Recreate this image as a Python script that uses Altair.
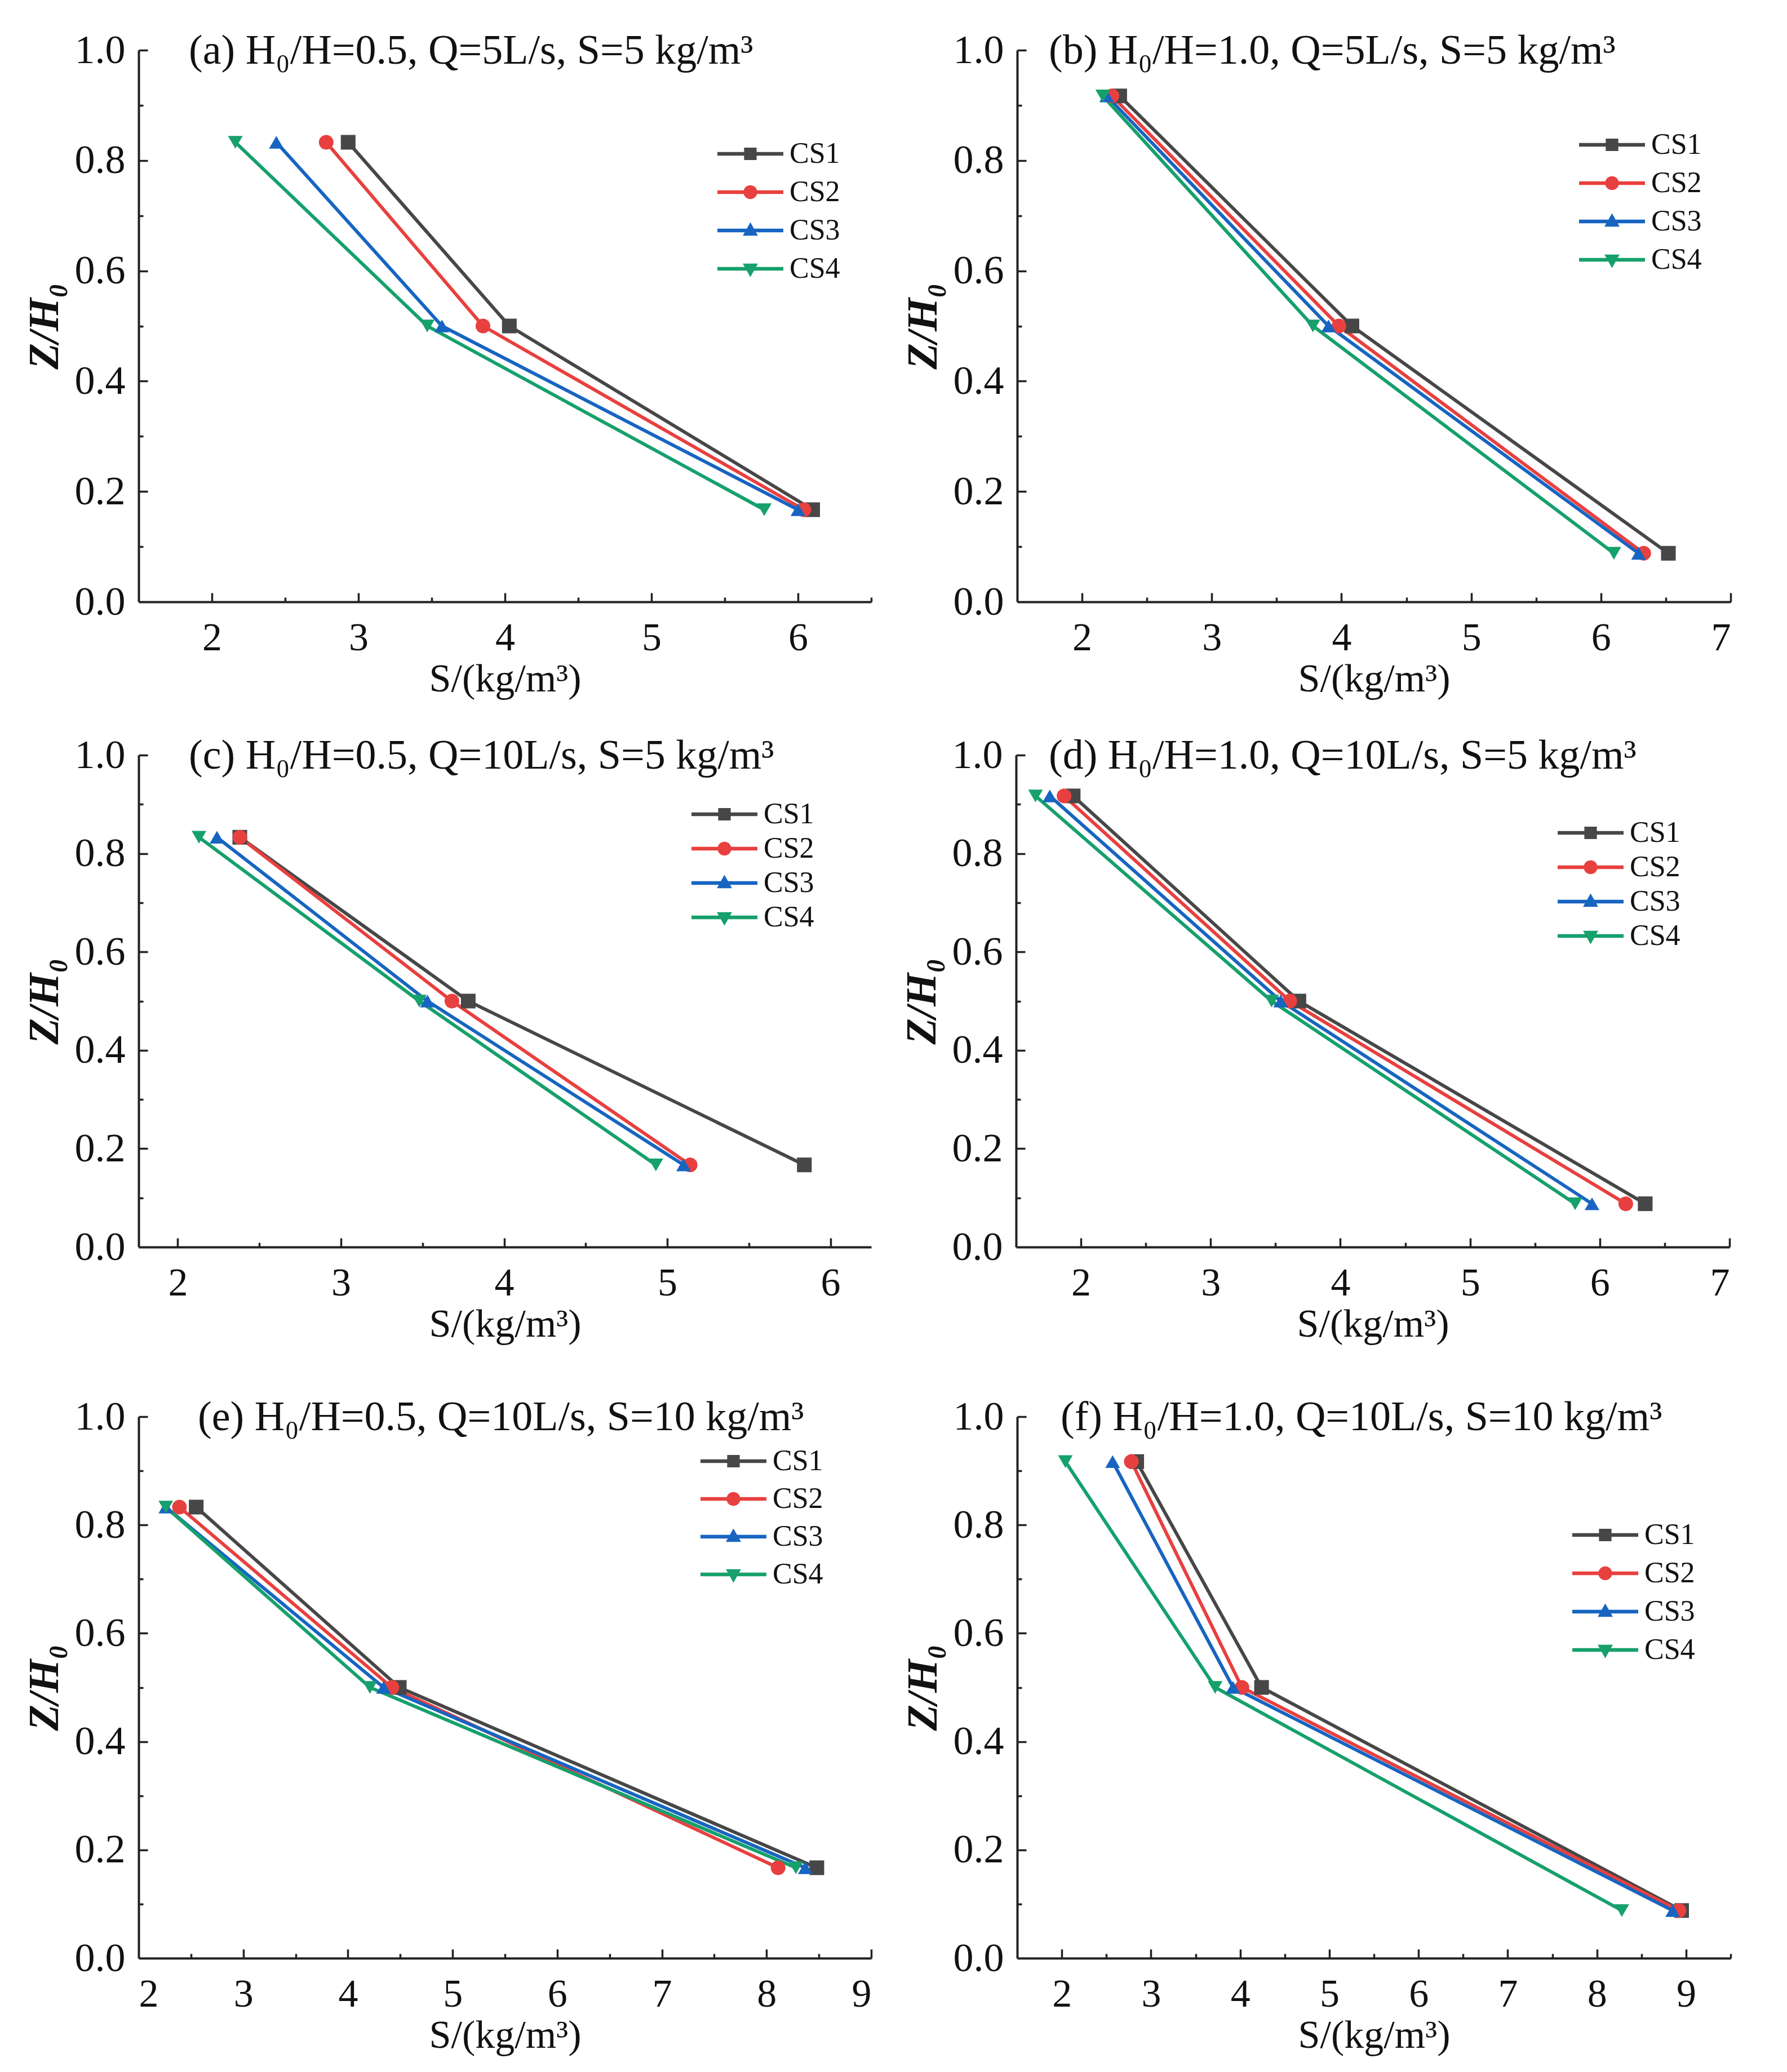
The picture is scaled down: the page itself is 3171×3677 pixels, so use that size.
import altair as alt
import pandas as pd

# ---------------- data ----------------
series = ["CS1", "CS2", "CS3", "CS4"]
colors = ["#474747", "#e8403f", "#1765c1", "#16a06c"]
shapes = ["square", "circle", "triangle-up", "triangle-down"]

z_half = [0.833, 0.5, 0.167]   # H0/H = 0.5
z_full = [0.917, 0.5, 0.088]   # H0/H = 1.0

a_cs1 = [2.93, 4.03, 6.10]
a_cs2 = [2.78, 3.85, 6.04]
a_cs3 = [2.44, 3.57, 6.00]
a_cs4 = [2.16, 3.47, 5.77]

b_cs1 = [2.29, 4.08, 6.52]
b_cs2 = [2.23, 3.98, 6.33]
b_cs3 = [2.19, 3.90, 6.29]
b_cs4 = [2.16, 3.78, 6.10]

c_cs1 = [2.38, 3.78, 5.84]
c_cs2 = [2.38, 3.68, 5.14]
c_cs3 = [2.24, 3.53, 5.10]
c_cs4 = [2.13, 3.48, 4.93]

d_cs1 = [1.94, 3.68, 6.35]
d_cs2 = [1.87, 3.61, 6.20]
d_cs3 = [1.76, 3.54, 5.94]
d_cs4 = [1.65, 3.47, 5.81]

e_cs1 = [2.55, 4.49, 8.48]
e_cs2 = [2.39, 4.42, 8.11]
e_cs3 = [2.26, 4.34, 8.37]
e_cs4 = [2.26, 4.21, 8.28]

f_cs1 = [2.84, 4.24, 8.95]
f_cs2 = [2.78, 4.02, 8.92]
f_cs3 = [2.57, 3.92, 8.85]
f_cs4 = [2.04, 3.72, 8.28]

titles = [
    "(a) H\u2080/H=0.5, Q=5L/s, S=5 kg/m\u00b3",
    "(b) H\u2080/H=1.0, Q=5L/s, S=5 kg/m\u00b3",
    "(c) H\u2080/H=0.5, Q=10L/s, S=5 kg/m\u00b3",
    "(d) H\u2080/H=1.0, Q=10L/s, S=5 kg/m\u00b3",
    "(e) H\u2080/H=0.5, Q=10L/s, S=10 kg/m\u00b3",
    "(f) H\u2080/H=1.0, Q=10L/s, S=10 kg/m\u00b3",
]

y_labels = [0.0, 0.2, 0.4, 0.6, 0.8, 1.0]
y_ticks = [0.1, 0.2, 0.3, 0.4, 0.5, 0.6, 0.7, 0.8, 0.9, 1.0]

# legend symbols: line + marker, as custom paths
LINE = "M-1,-0.055H1V0.055H-1Z"
legend_paths = [
    LINE + "M-0.19,-0.19H0.19V0.19H-0.19Z",
    LINE + "M-0.21,0A0.21,0.21 0 1,1 0.21,0A0.21,0.21 0 1,1 -0.21,0Z",
    LINE + "M0,-0.25L0.23,0.16H-0.23Z",
    LINE + "M0,0.25L-0.23,-0.16H0.23Z",
]

FONT = "Liberation Serif"


def panel(title, cs_vals, z, xdom, xlabels, width, height, legx, legy, rowpad, tdx):
    rows = []
    for s, vals in zip(series, cs_vals):
        for i, (xv, zv) in enumerate(zip(vals, z)):
            rows.append({"series": s, "S": xv, "Z": zv, "order": i})
    df = pd.DataFrame(rows)

    xticks = []
    v = xlabels[0] - 0.5
    while v <= xdom[1] + 1e-9:
        if v > xdom[0] + 1e-6:
            xticks.append(round(v, 2))
        v += 0.5

    xscale = alt.Scale(domain=xdom, nice=False, zero=False)
    yscale = alt.Scale(domain=[0, 1], nice=False, zero=False)
    cscale = alt.Scale(domain=series, range=colors)

    base = alt.Chart(df)

    lines = base.mark_line(strokeWidth=6).encode(
        x=alt.X("S:Q", scale=xscale,
                axis=alt.Axis(values=xlabels, title="S/(kg/m\u00b3)", ticks=False, tickSize=0,
                              grid=False, orient="bottom", labelPadding=30, titlePadding=4,
                              labelFontSize=70, titleFontSize=70, format="d")),
        y=alt.Y("Z:Q", scale=yscale,
                axis=alt.Axis(values=y_labels, title="Z/H\u2080", ticks=False, tickSize=0,
                              grid=False, orient="left", format=".1f", labelPadding=24,
                              titlePadding=14, titleFontStyle="italic", titleFontWeight="bold",
                              titleFontSize=76)),
        color=alt.Color("series:N", scale=cscale, legend=None),
        detail="series:N",
        order="order:Q",
    )

    pts = base.mark_point(filled=True, opacity=1, size=680).encode(
        x=alt.X("S:Q", scale=xscale,
                axis=alt.Axis(values=xticks, orient="top", offset=-height, labels=False,
                              domain=False, grid=False, title=None, tickWidth=3.5,
                              tickColor="#222222",
                              tickSize={"condition": {"test": "abs(datum.value - round(datum.value)) < 0.01",
                                                      "value": 16}, "value": 8})),
        y=alt.Y("Z:Q", scale=yscale,
                axis=alt.Axis(values=y_ticks, orient="right", offset=-width, labels=False,
                              domain=False, grid=False, title=None, tickWidth=3.5,
                              tickColor="#222222",
                              tickSize={"condition": {"test": "abs(datum.value*5 - round(datum.value*5)) < 0.01",
                                                      "value": 16}, "value": 8})),
        color=alt.Color("series:N", scale=cscale, legend=None),
        shape=alt.Shape("series:N", scale=alt.Scale(domain=series, range=shapes), legend=None),
    )

    leg = alt.Legend(title=None, orient="none", legendX=legx, legendY=legy,
                     symbolSize=13689, clipHeight=56, rowPadding=rowpad,
                     labelFont=FONT, labelFontSize=52, labelColor="#111111",
                     labelOffset=10, padding=0, symbolOpacity=1)

    legend_layer = base.mark_point(filled=True, opacity=1).encode(
        x=alt.X("S:Q", scale=xscale, axis=None),
        y=alt.Y("Z:Q", scale=yscale, axis=None),
        color=alt.Color("series:N", scale=alt.Scale(domain=series, range=colors), legend=leg),
        shape=alt.Shape("series:N", scale=alt.Scale(domain=series, range=legend_paths), legend=leg),
    ).transform_filter("false")

    title_layer = alt.Chart(pd.DataFrame({"t": [title]})).mark_text(
        align="left", baseline="alphabetic", font=FONT, fontSize=74, color="#111111"
    ).encode(text="t:N", x=alt.value(tdx), y=alt.value(24))

    return alt.layer(lines, pts, legend_layer, title_layer).resolve_scale(
        color="independent", shape="independent"
    ).resolve_axis(x="independent", y="independent").properties(
        width=width, height=height,
    )


W1, W2 = 1300, 1266
H1, H2, H3 = 979, 873, 961
pa = panel(titles[0], [a_cs1, a_cs2, a_cs3, a_cs4], z_half, [1.5, 6.5], [2, 3, 4, 5, 6],
           W1, H1, 1026, 156, 12, 89)
pb = panel(titles[1], [b_cs1, b_cs2, b_cs3, b_cs4], z_full, [1.5, 7.0], [2, 3, 4, 5, 6, 7],
           W2, H1, 996, 140, 12, 56)
pc = panel(titles[2], [c_cs1, c_cs2, c_cs3, c_cs4], z_half, [1.76, 6.25], [2, 3, 4, 5, 6],
           W1, H2, 980, 77, 5, 89)
pd_ = panel(titles[3], [d_cs1, d_cs2, d_cs3, d_cs4], z_full, [1.5, 7.0], [2, 3, 4, 5, 6, 7],
            W2, H2, 960, 110, 5, 58)
pe = panel(titles[4], [e_cs1, e_cs2, e_cs3, e_cs4], z_half, [2.0, 9.0], [2, 3, 4, 5, 6, 7, 8, 9],
           W1, H3, 996, 51, 11, 105)
pf = panel(titles[5], [f_cs1, f_cs2, f_cs3, f_cs4], z_full, [1.5, 9.5], [2, 3, 4, 5, 6, 7, 8, 9],
           W2, H3, 984, 182, 12, 77)

row1 = alt.hconcat(pa, pb, spacing=52)
row2 = alt.hconcat(pc, pd_, spacing=52)
row3 = alt.hconcat(pe, pf, spacing=52)

chart = alt.vconcat(row1, alt.vconcat(row2, row3, spacing=93), spacing=64).properties(
    padding={"left": 33, "top": 45, "right": 10, "bottom": 10},
    background="white",
).configure(font=FONT).configure_view(stroke=None).configure_axis(
    labelFont=FONT, labelFontSize=72, labelColor="#111111",
    titleFont=FONT, titleFontSize=72, titleFontWeight="normal", titleColor="#111111",
    domainColor="#222222", domainWidth=4,
).configure_legend(labelFont=FONT)

chart.save("out.html", embed_options={"renderer": "svg", "actions": False})
